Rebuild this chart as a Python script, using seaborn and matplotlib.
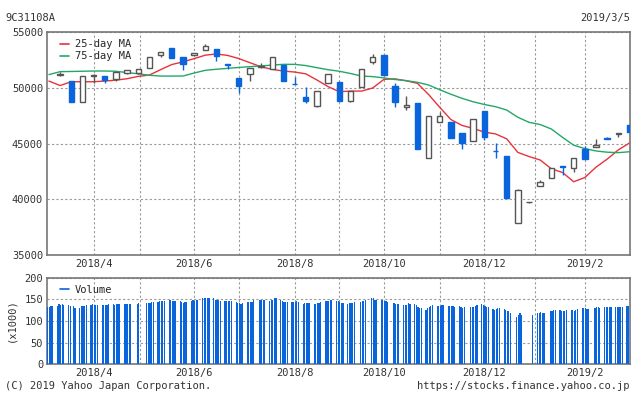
import numpy as np
import pandas as pd
import matplotlib
matplotlib.use('Agg')
import matplotlib.pyplot as plt
from matplotlib.lines import Line2D
import seaborn as sns

# weekly candles, one per week, dated on the Wednesday
candle_start = '2018-03-14'
opens = [51150, 50600, 48750, 51030, 51050, 50760, 51350, 51350, 51740, 52970,
         53600, 52730, 52910, 53390, 53480, 52160, 50850, 51200, 51830, 51650,
         52070, 50360, 49170, 48360, 50430, 50520, 48840, 50100, 52340, 52940,
         50160, 48300, 48630, 43730, 46960, 46960, 45940, 45200, 47910, 44350,
         43880, 37900, 39720, 41220, 41880, 42930, 42830, 44510, 44660, 45490,
         45820, 46620]
highs = [51410, 50600, 51030, 51200, 51050, 51400, 51600, 51700, 52730, 53200,
         53600, 52730, 53150, 53900, 53480, 52160, 50850, 51740, 52220, 52730,
         52070, 50920, 50040, 49680, 51230, 50520, 49700, 51650, 53030, 52940,
         50460, 49260, 48630, 47470, 47800, 46960, 45940, 47170, 47910, 45070,
         43880, 40900, 39760, 41730, 42770, 42930, 43670, 44780, 45380, 45610,
         45910, 46620]
lows = [51080, 48750, 48750, 50400, 50450, 50600, 51200, 51250, 51740, 52800,
        52700, 51620, 52850, 53390, 52400, 51650, 49500, 50630, 51800, 51650,
        50630, 50340, 48660, 48300, 50430, 48840, 48750, 50100, 52130, 51170,
        48300, 48000, 44530, 43730, 46960, 45520, 44530, 45200, 45310, 43730,
        40140, 37900, 39700, 41220, 41880, 42170, 42470, 43640, 44660, 45380,
        45550, 46060]
closes = [51250, 48750, 51030, 51150, 50700, 51390, 51560, 51650, 52730, 53180,
          52700, 52160, 53120, 53740, 52820, 52010, 50190, 51740, 51950, 52730,
          50630, 50340, 48840, 49680, 51230, 48840, 49700, 51650, 52730, 51170,
          48750, 48420, 44530, 47470, 47470, 45520, 45070, 47170, 45610, 44330,
          40140, 40830, 39740, 41520, 42770, 42920, 43670, 43640, 44840, 45380,
          45910, 46060]

# moving averages, read once a week
ma_start = '2018-03-07'
ma25 = [50600, 50200, 50540, 50540, 50540, 50600, 50680, 50810, 51020, 51140,
        51620, 52080, 52320, 52610, 52920, 53030, 52900, 52620, 52250, 51880,
        51650, 51500, 51410, 51250, 50700, 50100, 49650, 49700, 49700, 49980,
        50750, 50800, 50620, 50400, 49400, 48250, 47150, 46620, 46350, 46020,
        45860, 45420, 44200, 43830, 43520, 42730, 42400, 41570, 41950, 42880,
        43600, 44430, 45050]
ma75 = [51180, 51440, 51460, 51480, 51500, 51500, 51480, 51360, 51250, 51120,
        51050, 51050, 51050, 51320, 51560, 51660, 51740, 51820, 51890, 51960,
        52030, 52100, 52100, 51990, 51800, 51620, 51480, 51280, 51050, 51000,
        50880, 50740, 50640, 50490, 50250, 49820, 49420, 49050, 48740, 48500,
        48300, 48000, 47350, 46900, 46700, 46300, 45550, 44850, 44540, 44330,
        44220, 44180, 44260]

# daily volume (x1000), Monday..Friday of each week, None = no trading
volume_start = '2018-03-05'
volume_weeks = [
    [None, 132, 132, 135, 135], [135, 139, 137, 139, 137], [137, 135, None, 135, 130],
    [130, 135, 135, 135, 137], [137, 139, 137, 137, 137], [137, 137, 137, 137, 139],
    [139, 137, 139, 139, 139], [139, 139, 139, 139, 139], [None, 139, 142, None, None],
    [142, 142, 142, 145, 145], [145, 147, 147, 147, 147], [149, 149, 147, 147, 147],
    [147, 145, 142, 145, 145], [147, 149, 147, 149, 149], [152, 152, 152, 152, 152],
    [152, 149, 149, 149, 147], [147, 147, 147, 147, 147], [145, 142, 142, 139, 142],
    [145, 145, 145, 145, 149], [None, 149, 149, 149, 149], [147, 149, 149, 152, 152],
    [149, 147, 145, 145, 145], [145, 145, 145, 147, 145], [139, 142, 142, 142, 142],
    [139, 139, 142, 142, 145], [147, 147, 147, 149, 149], [147, 147, 145, 142, 142],
    [139, 142, 142, 142, 145], [None, 145, 147, 147, 149], [None, 152, 152, 149, 149],
    [149, 149, 147, 147, 145], [None, 142, 139, 139, 139], [137, 137, 137, 142, 139],
    [139, 137, 132, 130, 130], [125, 130, 132, 135, 137], [135, 135, 135, 137, 137],
    [135, 135, 135, 135, 132], [135, 132, 130, 132, None], [132, 132, 132, 135, 137],
    [139, 137, 135, 132, 132], [128, 125, 128, 130, 130], [128, 125, 122, 122, 118],
    [None, 110, 113, 118, 115], [None, None, None, None, 113], [118, 118, 120, 118, 118],
    [None, 122, 122, 125, 125], [125, 123, 123, 123, 125], [125, 125, 123, 125, 128],
    [130, 130, 130, 128, 128], [None, 130, 132, 132, 130], [132, 132, 132, 132, 132],
    [132, 132, 132, 132, 132], [135, 135, None, None, None],
]

month_ticks = ['2018-04-04', '2018-05-03', '2018-06-06', '2018-07-04', '2018-08-08',
               '2018-09-05', '2018-10-03', '2018-11-07', '2018-12-05', '2019-01-06',
               '2019-02-06']
month_labels = ['2018/4', '', '2018/6', '', '2018/8', '', '2018/10', '', '2018/12',
                '', '2019/2']

BLUE = '#0a64dc'
EDGE = '#555555'
RED = '#e8323c'
GREEN = '#22a866'
TXT = '#333333'

sns.set_style('white')
plt.rcParams['font.family'] = ['DejaVu Sans Mono']

candle_dates = pd.date_range(candle_start, periods=len(opens), freq='7D')
df = pd.DataFrame({'date': candle_dates, 'open': opens, 'high': highs,
                   'low': lows, 'close': closes})
df_ma = pd.DataFrame({'date': pd.date_range(ma_start, periods=len(ma25), freq='7D'),
                      'ma25': ma25, 'ma75': ma75})

vol_dates, vol_vals = [], []
for i, week in enumerate(volume_weeks):
    monday = pd.Timestamp(volume_start) + pd.Timedelta(weeks=i)
    for d, v in enumerate(week):
        if v is not None:
            vol_dates.append(monday + pd.Timedelta(days=d))
            vol_vals.append(v)

W, H = 634, 394
x0, x1 = 47.3, 630
fig = plt.figure(figsize=(W / 100, H / 100), dpi=100)
ax = fig.add_axes([x0 / W, 1 - 255 / H, (x1 - x0) / W, (255 - 32) / H])
axv = fig.add_axes([x0 / W, 1 - 364.3 / H, (x1 - x0) / W, (364.3 - 277.7) / H])

xlim = (pd.Timestamp('2018-03-06'), pd.Timestamp('2019-03-06 07:00'))

# moving averages
sns.lineplot(data=df_ma, x='date', y='ma25', color=RED, lw=1, ax=ax, zorder=2)
sns.lineplot(data=df_ma, x='date', y='ma75', color=GREEN, lw=1, ax=ax, zorder=2)

# candles
up = df['close'] >= df['open']
face = np.where(up, 'white', BLUE)
edge = np.where(up, EDGE, BLUE)
body_lo = np.minimum(df['open'], df['close'])
body_h = np.maximum(np.abs(df['close'] - df['open']), 20)
ax.vlines(df['date'], df['low'], df['high'], colors=edge, lw=1, zorder=3)
ax.bar(df['date'], body_h, bottom=body_lo, width=3.4, color=face,
       edgecolor=edge, lw=1, zorder=4)

# volume
axv.bar(vol_dates, vol_vals, width=0.75, align='edge', color=BLUE, lw=0, zorder=3)

ticks = pd.to_datetime(month_ticks)
for a, ylim, yt in [(ax, (35000, 55000), np.arange(35000, 55001, 5000)),
                    (axv, (0, 200), np.arange(0, 201, 50))]:
    a.set_xlim(*xlim)
    a.set_ylim(*ylim)
    a.set_yticks(yt)
    a.set_xticks(ticks)
    a.set_xticklabels(month_labels)
    a.set_xlabel('')
    a.set_ylabel('')
    a.set_axisbelow(True)
    a.grid(True, color='#999999', lw=0.8, linestyle=(0, (2, 2)))
    a.tick_params(length=0, pad=3, labelsize=7.5, labelcolor=TXT)
    for s in a.spines.values():
        s.set_visible(True)
        s.set_color('#777777')
        s.set_linewidth(1.2)

ax.legend(handles=[Line2D([], [], color=RED, lw=1.2), Line2D([], [], color=GREEN, lw=1.2)],
          labels=['25-day MA', '75-day MA'], loc='upper left', frameon=False,
          handlelength=0.8, handletextpad=0.6, fontsize=7.5, labelspacing=0.2,
          borderaxespad=0.3, bbox_to_anchor=(0.01, 1.0))
axv.legend(handles=[Line2D([], [], color=BLUE, lw=1.2)], labels=['Volume'],
           loc='upper left', frameon=False, handlelength=0.8, handletextpad=0.6,
           fontsize=7.5, borderaxespad=0.3, bbox_to_anchor=(0.01, 1.0))

fig.text(5 / W, 1 - 18 / H, '9C31108A', ha='left', va='center', fontsize=7.5, color=TXT)
fig.text(630 / W, 1 - 18 / H, '2019/3/5', ha='right', va='center', fontsize=7.5, color=TXT)
fig.text(5 / W, 1 - 386 / H, '(C) 2019 Yahoo Japan Corporation.', ha='left',
         va='center', fontsize=7.5, color=TXT)
fig.text(630 / W, 1 - 386 / H, 'https://stocks.finance.yahoo.co.jp', ha='right',
         va='center', fontsize=7.5, color=TXT)
fig.text(11 / W, 1 - 320 / H, '(x1000)', ha='center', va='center', rotation=90,
         fontsize=7.5, color=TXT)

fig.savefig('out.png', dpi=100, facecolor='white')
